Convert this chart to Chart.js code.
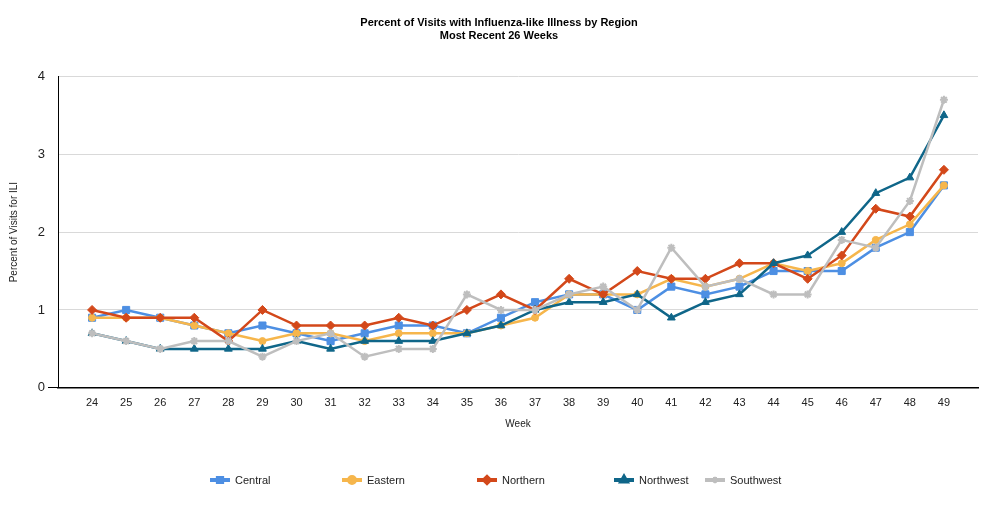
<!DOCTYPE html>
<html>
<head>
<meta charset="utf-8">
<script src="https://cdn.jsdelivr.net/npm/chart.js@4.4.1/dist/chart.umd.min.js"></script>
<style>
  html, body { margin: 0; padding: 0; background: #fff; }
  #wrap { width: 989px; height: 517px; position: relative; }
</style>
</head>
<body>
<div id="wrap"><canvas id="iliChart"></canvas></div>
<script>
// Data
const weeks = [24, 25, 26, 27, 28, 29, 30, 31, 32, 33, 34, 35, 36, 37, 38, 39, 40, 41, 42, 43, 44, 45, 46, 47, 48, 49];
const regions = ['Central', 'Eastern', 'Northern', 'Northwest', 'Southwest'];

const central   = [0.9, 1.0, 0.9, 0.8, 0.7, 0.8, 0.7, 0.6, 0.7, 0.8, 0.8, 0.7, 0.9, 1.1, 1.2, 1.2, 1.0, 1.3, 1.2, 1.3, 1.5, 1.5, 1.5, 1.8, 2.0, 2.6];
const eastern   = [0.9, 0.9, 0.9, 0.8, 0.7, 0.6, 0.7, 0.7, 0.6, 0.7, 0.7, 0.7, 0.8, 0.9, 1.2, 1.2, 1.2, 1.4, 1.3, 1.4, 1.6, 1.5, 1.6, 1.9, 2.1, 2.6];
const northern  = [1.0, 0.9, 0.9, 0.9, 0.6, 1.0, 0.8, 0.8, 0.8, 0.9, 0.8, 1.0, 1.2, 1.0, 1.4, 1.2, 1.5, 1.4, 1.4, 1.6, 1.6, 1.4, 1.7, 2.3, 2.2, 2.8];
const northwest = [0.7, 0.6, 0.5, 0.5, 0.5, 0.5, 0.6, 0.5, 0.6, 0.6, 0.6, 0.7, 0.8, 1.0, 1.1, 1.1, 1.2, 0.9, 1.1, 1.2, 1.6, 1.7, 2.0, 2.5, 2.7, 3.5];
const southwest = [0.7, 0.6, 0.5, 0.6, 0.6, 0.4, 0.6, 0.7, 0.4, 0.5, 0.5, 1.2, 1.0, 1.0, 1.2, 1.3, 1.0, 1.8, 1.3, 1.4, 1.2, 1.2, 1.9, 1.8, 2.4, 3.7];
const yTicks = [0, 1, 2, 3, 4];

const seriesValues = [central, eastern, northern, northwest, southwest];
const colors = ['#4d8fe3', '#f6b64c', '#d3481a', '#0f6689', '#bebebe'];
const pointStyles = ['rect', 'circle', 'rectRot', 'triangle', 'star'];
const pointRadii = [5, 3.5, 4.5, 4.5, 4];

// legend item left edges (layout only)
const legendX = [210, 342, 477, 614, 705];
const legendY = 480;

const fontFamily = 'Arial, "Liberation Sans", sans-serif';

const datasets = regions.map((name, i) => ({
  label: name,
  data: weeks.map((w, j) => ({ x: w, y: seriesValues[i][j] })),
  borderColor: colors[i],
  backgroundColor: colors[i],
  borderWidth: 2.5,
  pointStyle: pointStyles[i],
  pointRadius: pointRadii[i],
  pointBorderWidth: i === 4 ? 2 : 1,
  pointHoverRadius: pointRadii[i],
  tension: 0,
  order: regions.length - i
}));

// bottom legend: line with marker, then text
const customLegend = {
  id: 'customLegend',
  afterDraw(chart) {
    const ctx = chart.ctx;
    ctx.save();
    regions.forEach((name, i) => {
      const x = legendX[i];
      ctx.strokeStyle = colors[i];
      ctx.lineWidth = 4;
      ctx.beginPath();
      ctx.moveTo(x, legendY);
      ctx.lineTo(x + 20, legendY);
      ctx.stroke();
      ctx.fillStyle = colors[i];
      Chart.helpers.drawPoint(ctx, {
        pointStyle: pointStyles[i],
        radius: 3,
        borderWidth: i === 4 ? 2 : 1
      }, x + 10, legendY);
      ctx.fillStyle = '#222';
      ctx.font = '11px ' + fontFamily;
      ctx.textBaseline = 'middle';
      ctx.textAlign = 'left';
      ctx.fillText(name, x + 25, legendY + 0.5);
    });
    ctx.restore();
  }
};

new Chart(document.getElementById('iliChart'), {
  type: 'line',
  data: { datasets },
  options: {
    responsive: true,
    maintainAspectRatio: false,
    animation: false,
    layout: { padding: { left: 20, right: 11, top: 0, bottom: 87 } },
    plugins: {
      legend: { display: false },
      tooltip: { enabled: false },
      title: {
        display: true,
        text: ['Percent of Visits with Influenza-like Illness by Region', 'Most Recent 26 Weeks'],
        color: '#000',
        font: { family: '"Liberation Sans Narrow", ' + fontFamily, size: 11, weight: 'bold' },
        lineHeight: 1.15,
        padding: { top: 16, bottom: 34 }
      }
    },
    scales: {
      x: {
        type: 'linear',
        min: 23,
        max: 50,
        grid: { display: false, drawTicks: false },
        border: { display: true, color: '#000', width: 1.5 },
        afterBuildTicks: scale => { scale.ticks = weeks.map(w => ({ value: w })); },
        ticks: {
          autoSkip: false,
          maxRotation: 0,
          padding: 9,
          color: '#222',
          font: { family: fontFamily, size: 11 }
        },
        title: {
          display: true,
          text: 'Week',
          color: '#222',
          font: { family: fontFamily, size: 10 },
          padding: { top: -1, bottom: 0 }
        }
      },
      y: {
        min: 0,
        max: 4,
        afterBuildTicks: scale => { scale.ticks = yTicks.map(v => ({ value: v })); },
        afterFit: scale => { scale.width = 38; },
        grid: {
          color: ctx => ctx.tick && ctx.tick.value === 0 ? '#000' : '#d9d9d9',
          tickColor: ctx => ctx.tick && ctx.tick.value === 0 ? '#000' : 'rgba(0,0,0,0)',
          tickLength: 10,
          lineWidth: 1
        },
        border: { display: true, color: '#000', width: 1 },
        ticks: {
          padding: 3,
          color: '#222',
          font: { family: fontFamily, size: 13 }
        },
        title: {
          display: true,
          text: 'Percent of Visits for ILI',
          color: '#222',
          font: { family: fontFamily, size: 10 },
          padding: { top: -12, bottom: 0 }
        }
      }
    }
  },
  plugins: [customLegend]
});
</script>
</body>
</html>
